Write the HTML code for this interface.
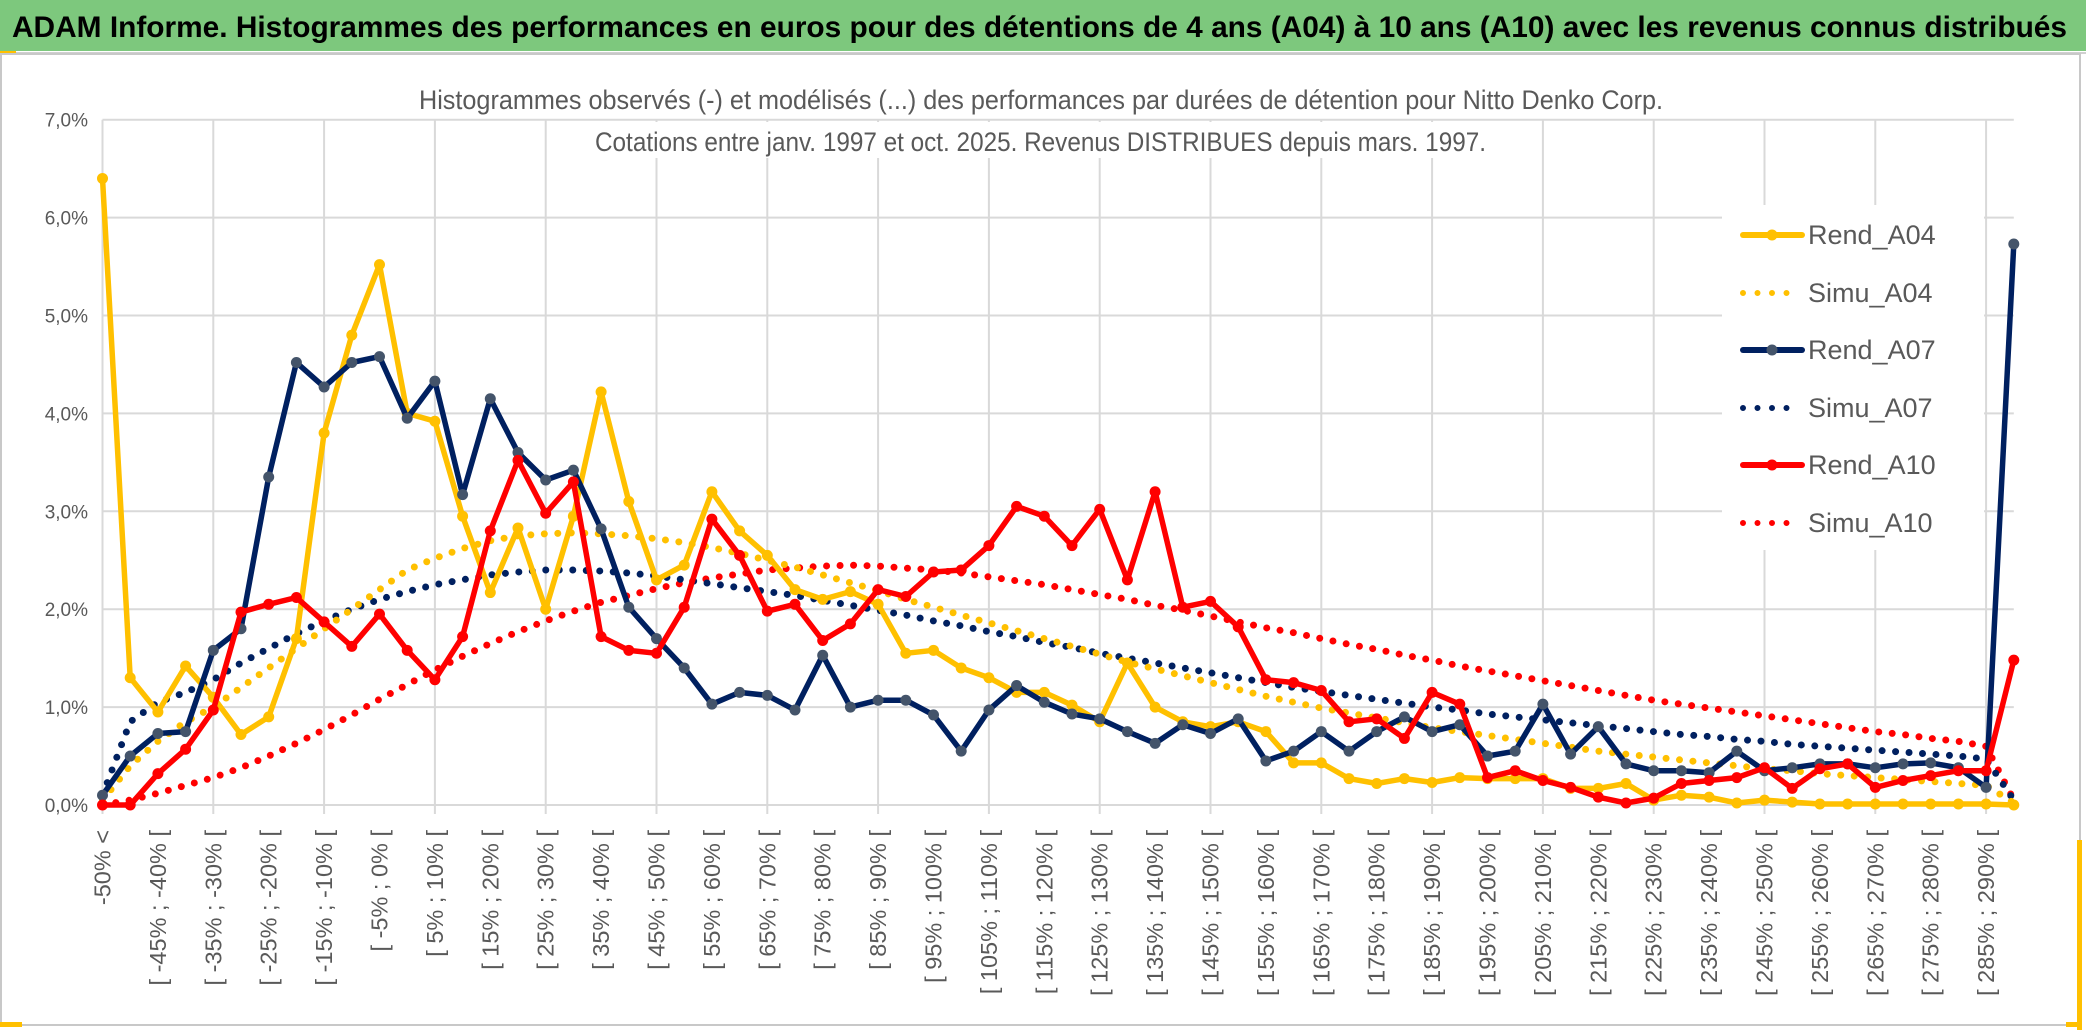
<!DOCTYPE html>
<html><head><meta charset="utf-8"><style>
html,body{margin:0;padding:0;background:#fff;}
svg{display:block;font-family:"Liberation Sans Narrow","Liberation Sans",sans-serif;}
</style></head><body>
<svg id="chart" width="2086" height="1033" viewBox="0 0 2086 1033" xmlns="http://www.w3.org/2000/svg">
<rect x="0" y="0" width="2086" height="1033" fill="#fff"/>
<rect x="0" y="0" width="2086" height="51" fill="#7dc87d"/>
<line x1="0" y1="53" x2="2086" y2="53" stroke="#d0d0d0" stroke-width="2"/>
<rect x="0" y="51" width="16" height="3" fill="#ffc000"/>
<text x="12" y="37" font-size="30" font-weight="bold" fill="#000" textLength="2055" lengthAdjust="spacingAndGlyphs">ADAM Informe. Histogrammes des performances en euros pour des détentions de 4 ans (A04) à 10 ans (A10) avec les revenus connus distribués</text>
<rect x="1" y="54" width="2079" height="971" fill="none" stroke="#c8c8c8" stroke-width="2"/>
<rect x="2077" y="840" width="5" height="190" fill="#ffc000"/>
<rect x="2066" y="1022" width="16" height="5" fill="#ffc000"/>
<rect x="0" y="1022" width="22" height="5" fill="#ffc000"/>
<g id="grid"></g>
<g id="yaxis"></g>
<g id="xaxis"></g>
<rect x="415" y="80" width="1252" height="36" fill="#fff"/>
<rect x="590" y="122" width="900" height="36" fill="#fff"/>
<text x="419" y="109" font-size="27" fill="#595959" textLength="1244" lengthAdjust="spacingAndGlyphs">Histogrammes observés (-) et modélisés (...) des performances par durées de détention pour Nitto Denko Corp.</text>
<text x="595" y="151" font-size="27" fill="#595959" textLength="891" lengthAdjust="spacingAndGlyphs">Cotations entre janv. 1997 et oct. 2025. Revenus DISTRIBUES depuis mars. 1997.</text>
<g id="series"></g>
<g id="legend"></g>
</svg>
<script>
const rendA04 = [6.4,1.3,0.95,1.42,1.1,0.72,0.9,1.7,3.8,4.8,5.52,4.0,3.92,2.95,2.17,2.83,2.0,2.95,4.22,3.1,2.3,2.45,3.2,2.8,2.55,2.2,2.1,2.18,2.05,1.55,1.58,1.4,1.3,1.15,1.15,1.02,0.85,1.45,1.0,0.85,0.8,0.85,0.75,0.43,0.43,0.27,0.22,0.27,0.23,0.28,0.27,0.27,0.27,0.17,0.17,0.22,0.05,0.1,0.08,0.02,0.05,0.03,0.01,0.01,0.01,0.01,0.01,0.01,0.01,0.0];
const rendA07 = [0.1,0.5,0.73,0.75,1.58,1.8,3.35,4.52,4.27,4.52,4.58,3.95,4.33,3.17,4.15,3.6,3.32,3.42,2.82,2.02,1.7,1.4,1.03,1.15,1.12,0.97,1.53,1.0,1.07,1.07,0.92,0.55,0.97,1.22,1.05,0.93,0.88,0.75,0.63,0.82,0.73,0.88,0.45,0.55,0.75,0.55,0.75,0.9,0.75,0.82,0.5,0.55,1.03,0.52,0.8,0.42,0.35,0.35,0.33,0.55,0.35,0.38,0.42,0.42,0.38,0.42,0.43,0.38,0.18,5.73];
const rendA10 = [0.0,0.0,0.32,0.57,0.97,1.97,2.05,2.12,1.87,1.62,1.95,1.58,1.28,1.72,2.8,3.52,2.98,3.3,1.72,1.58,1.55,2.02,2.92,2.55,1.98,2.05,1.68,1.85,2.2,2.13,2.38,2.4,2.65,3.05,2.95,2.65,3.02,2.3,3.2,2.02,2.08,1.82,1.28,1.25,1.17,0.85,0.88,0.68,1.15,1.03,0.28,0.35,0.25,0.18,0.08,0.02,0.07,0.22,0.25,0.28,0.38,0.17,0.37,0.42,0.18,0.25,0.3,0.35,0.35,1.48];
const simuA04 = [0.05,0.4,0.65,0.85,1.0,1.2,1.4,1.6,1.8,2.0,2.2,2.4,2.52,2.62,2.7,2.75,2.77,2.78,2.77,2.75,2.72,2.68,2.63,2.57,2.5,2.43,2.35,2.27,2.19,2.1,2.02,1.94,1.86,1.78,1.7,1.62,1.54,1.46,1.39,1.32,1.25,1.18,1.11,1.05,0.99,0.94,0.89,0.84,0.79,0.75,0.71,0.67,0.63,0.59,0.55,0.52,0.49,0.46,0.43,0.4,0.37,0.35,0.32,0.3,0.28,0.26,0.24,0.22,0.2,0.02];
const simuA07 = [0.1,0.85,1.05,1.15,1.28,1.45,1.6,1.75,1.88,2.0,2.1,2.18,2.25,2.3,2.35,2.38,2.4,2.4,2.39,2.37,2.34,2.3,2.26,2.22,2.18,2.14,2.09,2.04,1.99,1.94,1.88,1.83,1.77,1.72,1.66,1.61,1.55,1.5,1.45,1.4,1.35,1.3,1.25,1.2,1.16,1.12,1.08,1.04,1.0,0.97,0.93,0.9,0.87,0.84,0.81,0.78,0.75,0.72,0.7,0.67,0.65,0.62,0.6,0.58,0.56,0.54,0.52,0.5,0.47,0.05];
const simuA10 = [0.0,0.05,0.12,0.2,0.28,0.38,0.5,0.63,0.77,0.92,1.08,1.23,1.38,1.52,1.65,1.77,1.88,1.98,2.07,2.14,2.21,2.27,2.32,2.36,2.4,2.42,2.44,2.45,2.44,2.42,2.4,2.37,2.33,2.29,2.25,2.2,2.15,2.1,2.04,1.99,1.93,1.87,1.81,1.76,1.7,1.64,1.59,1.53,1.48,1.42,1.37,1.32,1.27,1.22,1.17,1.12,1.07,1.03,0.99,0.95,0.91,0.87,0.83,0.79,0.75,0.72,0.68,0.65,0.6,0.05];
const yTicks = [0,1,2,3,4,5,6,7];
const yTickLabels = ["0,0%","1,0%","2,0%","3,0%","4,0%","5,0%","6,0%","7,0%"];
const categories = [];
for (let i = 0; i < 70; i++) {
  if (i === 0) categories.push("-50% <");
  else if (i === 69) categories.push("290% <");
  else categories.push("[ " + (-55 + 5*i) + "% ; " + (-50 + 5*i) + "% [");
}
const seriesNames = ["Rend_A04","Simu_A04","Rend_A07","Simu_A07","Rend_A10","Simu_A10"];

const NS = "http://www.w3.org/2000/svg";
const X0 = 102.5, DX = 27.7, Y0 = 805, DY = 97.9;
function xs(i){ return X0 + i*DX; }
function ys(v){ return Y0 - v*DY; }
function mk(tag, attrs, parent){
  const e = document.createElementNS(NS, tag);
  for (const k in attrs) e.setAttribute(k, attrs[k]);
  parent.appendChild(e); return e;
}
const grid = document.getElementById('grid');
const yaxis = document.getElementById('yaxis');
const xaxis = document.getElementById('xaxis');
const seriesG = document.getElementById('series');
const legend = document.getElementById('legend');
const xEnd = xs(categories.length - 1);

yTicks.forEach((t, k) => {
  const l = mk('line', {x1: X0, x2: xEnd, y1: ys(t), y2: ys(t), stroke: '#d9d9d9', 'stroke-width': 2}, grid);
  
  
  const tx = mk('text', {x: 88, y: ys(t) + 7, 'font-size': 19, fill: '#595959', 'text-anchor': 'end'}, yaxis);
  
  
  tx.textContent = yTickLabels[k];
});
for (let i = 0; i < categories.length; i += 4) {
  const l = mk('line', {x1: xs(i), x2: xs(i), y1: ys(7), y2: Y0 + 9, stroke: '#d9d9d9', 'stroke-width': 2}, grid);
  
  
}
categories.forEach((c, i) => {
  if (i % 2 !== 0 || i === 69) return;
  const x = xs(i) + 8, y = 830;
  const tx = mk('text', {x: x, y: y, 'font-size': 23.5, fill: '#595959', 'text-anchor': 'end', transform: 'rotate(-90 ' + x + ' ' + y + ')'}, xaxis);
  
  
  tx.textContent = c;
});

function pts(arr){ return arr.map((v, i) => xs(i).toFixed(1) + ',' + ys(v).toFixed(1)).join(' '); }
function dotted(arr, color, name){
  const p = mk('polyline', {points: pts(arr), fill: 'none', stroke: color, 'stroke-width': 7, 'stroke-linecap': 'round', 'stroke-dasharray': '0 13.5'}, seriesG);
  
  
}
function solid(arr, color, mcolor, name){
  const g = mk('g', {}, seriesG);
  
  
  mk('polyline', {points: pts(arr), fill: 'none', stroke: color, 'stroke-width': 5.5, 'stroke-linejoin': 'round'}, g);
  arr.forEach((v, i) => {
    const c = mk('circle', {cx: xs(i), cy: ys(v), r: 5.5, fill: mcolor}, g);
    
    
  });
}
dotted(simuA10, '#ff0000', 'simu-a10-line');
dotted(simuA07, '#002060', 'simu-a07-line');
dotted(simuA04, '#ffc000', 'simu-a04-line');
solid(rendA04, '#ffc000', '#ffc000', 'rend-a04-line');
solid(rendA07, '#002060', '#44546a', 'rend-a07-line');
solid(rendA10, '#ff0000', '#ff0000', 'rend-a10-line');

mk('rect', {x: 1722, y: 205, width: 262, height: 345, fill: '#fff'}, legend);
const legColors = ['#ffc000','#ffc000','#002060','#002060','#ff0000','#ff0000'];
const legMarker = ['#ffc000',null,'#44546a',null,'#ff0000',null];
const legY = [235, 293, 350, 408, 465, 523];
seriesNames.forEach((n, k) => {
  const g = mk('g', {}, legend);
  
  
  const y = legY[k];
  if (legMarker[k]) {
    mk('line', {x1: 1743, x2: 1802, y1: y, y2: y, stroke: legColors[k], 'stroke-width': 6, 'stroke-linecap': 'round'}, g);
    mk('circle', {cx: 1772, cy: y, r: 5.5, fill: legMarker[k]}, g);
  } else {
    mk('line', {x1: 1743, x2: 1800, y1: y, y2: y, stroke: legColors[k], 'stroke-width': 6, 'stroke-linecap': 'round', 'stroke-dasharray': '0 14.5'}, g);
  }
  const t = mk('text', {x: 1808, y: y + 9, 'font-size': 27, fill: '#595959'}, g);
  t.textContent = n;
});
</script>
</body></html>
